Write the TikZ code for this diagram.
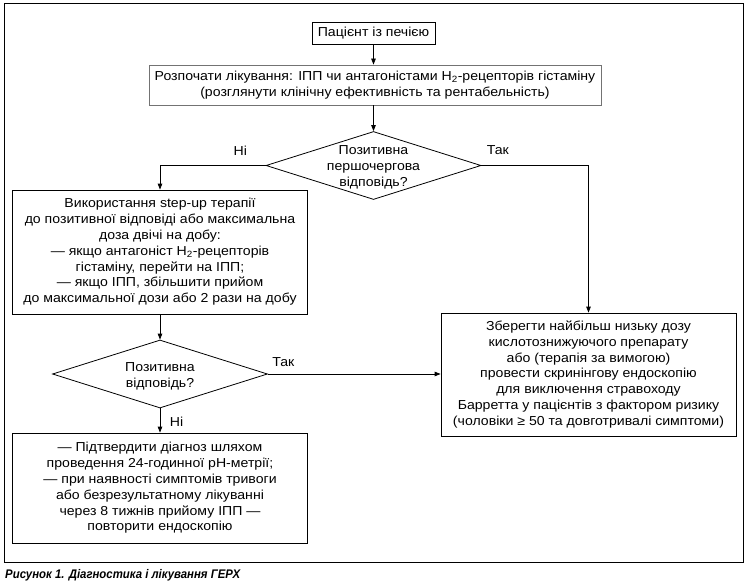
\documentclass[tikz,border=0pt]{standalone}
\usepackage{fontspec}
\setmainfont[FakeStretch=1.085]{Liberation Sans}
\usepackage{graphicx}
\usetikzlibrary{arrows.meta,shapes.geometric}
\newcommand{\zcell}[1]{\smash{\makebox[0pt]{\raisebox{-5pt}{\begin{tabular}{@{}c@{}}#1\end{tabular}}}}}
\begin{document}
\begin{tikzpicture}[x=1pt,y=-1pt,
  every node/.style={font=\fontsize{13}{15.8}\selectfont},
  box/.style={draw, line width=0.8pt, align=center, inner sep=0pt},
  decision/.style={draw, line width=0.8pt, diamond, inner sep=0pt, minimum width=215pt, minimum height=68pt},
  conn/.style={draw, line width=0.8pt, -{Triangle[length=6pt,width=4.5pt]}},
  lbl/.style={inner sep=0pt, font=\fontsize{13}{16}\selectfont}]
\useasboundingbox (0,0) rectangle (750,586);
\draw[line width=1pt] (4.7,3.3) rectangle (743,562);

\node[box, minimum width=123pt, minimum height=22pt] (b1) at (373.5,33) {Пацієнт із печією};
\node[box, draw=black!55, minimum width=452pt, minimum height=40pt] (b2) at (375,85)
  {Розпочати лікування: ІПП чи антагоністами H\textsubscript{2}-рецепторів гістаміну\\(розглянути клінічну ефективність та рентабельність)};
\node[decision] (d1) at (373.5,165.5) {\zcell{Позитивна\\першочергова\\відповідь?}};
\node[box, minimum width=294.5pt, minimum height=124pt] (bl) at (160,252)
  {Використання step-up терапії\\до позитивної відповіді або максимальна\\доза двічі на добу:\\— якщо антагоніст H\textsubscript{2}-рецепторів\\гістаміну, перейти на ІПП;\\— якщо ІПП, збільшити прийом\\до максимальної дози або 2 рази на добу};
\node[decision] (d2) at (160,374) {\zcell{Позитивна\\відповідь?}};
\node[box, minimum width=295pt, minimum height=123pt] (br) at (588.5,374.5)
  {Зберегти найбільш низьку дозу\\кислотознижуючого препарату\\або (терапія за вимогою)\\провести скринінгову ендоскопію\\для виключення стравоходу\\Барретта у пацієнтів з фактором ризику\\(чоловіки ≥ 50 та довготривалі симптоми)};
\node[box, minimum width=294.5pt, minimum height=110pt] (bb) at (160,488)
  {— Підтвердити діагноз шляхом\\проведення 24-годинної pH-метрії;\\— при наявності симптомів тривоги\\або безрезультатному лікуванні\\через 8 тижнів прийому ІПП —\\повторити ендоскопію};

\node[anchor=west, inner sep=0pt] (cap) at (5,575)
  {\scalebox{0.84}[1]{\fontsize{12.5}{14}\selectfont\bfseries\itshape Рисунок 1. Діагностика і лікування ГЕРХ}};

\draw[conn] (b1.south) -- (b1.south |- b2.north);
\draw[conn] (d1.north |- b2.south) -- (d1.north);
\draw[conn] (d1.west) -- node[lbl, pos=0.24, yshift=15pt] {Ні} (bl.north |- d1.west) -- (bl.north);
\draw[conn] (d1.east) -- node[lbl, pos=0.153, yshift=15pt] {Так} (br.north |- d1.east) -- (br.north);
\draw[conn] (bl.south) -- (bl.south |- d2.north);
\draw[conn] (d2.east) -- node[lbl, pos=0.089, yshift=12pt] {Так} (d2.east -| br.west);
\draw[conn] (d2.south) -- node[lbl, pos=0.56, xshift=16.5pt] {Ні} (bb.north);
\end{tikzpicture}
\end{document}
